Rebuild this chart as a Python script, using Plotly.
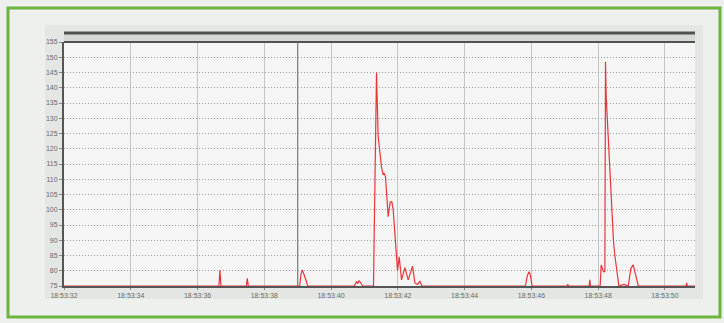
import pandas as pd
import plotly.graph_objects as go

# Sample times (seconds past 18:53:00) and the measured signal level
seconds = [
    32.00,
    36.64, 36.67, 36.70,
    37.46, 37.49, 37.52,
    39.06, 39.10, 39.14, 39.18, 39.22, 39.26, 39.30,
    40.70, 40.76, 40.80, 40.84, 40.90, 40.95,
    41.27, 41.36, 41.41, 41.51, 41.56, 41.59, 41.63, 41.71, 41.77, 41.82,
    41.86, 41.96, 41.99, 42.04, 42.11, 42.21, 42.31, 42.44, 42.51, 42.58,
    42.66, 42.72,
    45.82, 45.88, 45.93, 45.97, 46.02,
    47.07, 47.09, 47.11,
    47.73, 47.75, 47.77,
    48.06, 48.09, 48.16, 48.20, 48.22, 48.24, 48.46, 48.50, 48.62,
    48.77, 48.90, 48.98, 49.05, 49.10, 49.20,
    50.63, 50.65, 50.67,
    50.90,
]
values = [
    75,
    75, 80.2, 75,
    75, 77.5, 75,
    75, 79, 80.2, 79, 78, 76.5, 75,
    75, 76.5, 75.8, 76.8, 76, 75,
    75, 145, 124, 114, 111.4, 112, 110.8, 97.7, 102.6, 102.6,
    100, 85.8, 80, 84.6, 77, 81, 77, 81.5, 76, 75.5,
    76.5, 75,
    75, 78.5, 79.7, 78.5, 75,
    75, 75.6, 75,
    75, 77, 75,
    75, 81.9, 79.7, 79.7, 148.5, 137, 89.5, 85, 75,
    75.5, 75, 80.8, 81.9, 79.7, 75,
    75, 76, 75,
    75,
]

y_ticks = [75, 80, 85, 90, 95, 100, 105, 110, 115, 120, 125, 130, 135, 140, 145, 150, 155]
x_tick_seconds = [32, 34, 36, 38, 40, 42, 44, 46, 48, 50]
x_start, x_end = 32.0, 50.9
cursor_second = 39.0

base = pd.Timestamp("2020-01-01 18:53:00")
def to_time(s):
    return base + pd.to_timedelta(s, unit="s")

times = [to_time(s) for s in seconds]
tick_times = [to_time(s) for s in x_tick_seconds]
tick_text = [t.strftime("%H:%M:%S") for t in tick_times]

fig = go.Figure()
fig.add_trace(go.Scatter(
    x=times, y=values, mode="lines",
    line=dict(color="#e8353a", width=1.2),
    hoverinfo="skip", showlegend=False,
))

fig.update_layout(
    width=724, height=323,
    margin=dict(l=64, r=29, t=42, b=37),
    paper_bgcolor="#eef0ee",
    plot_bgcolor="#f4f5f4",
    font=dict(family="Liberation Sans, Arial, sans-serif", size=7, color="#6a6a6a"),
    xaxis=dict(
        range=[to_time(x_start), to_time(x_end)],
        tickvals=tick_times, ticktext=tick_text,
        showgrid=True, gridcolor="#c4c6c4", gridwidth=1,
        showline=True, linecolor="#555555", linewidth=2,
        ticks="outside", ticklen=2, tickcolor="#888888",
        zeroline=False,
    ),
    yaxis=dict(
        range=[75, 155],
        tickvals=y_ticks,
        showgrid=True, gridcolor="#9a9c9a", gridwidth=1, griddash="1px,2px",
        showline=True, linecolor="#555555", linewidth=2,
        ticks="outside", ticklen=3, tickcolor="#888888",
        zeroline=False,
    ),
    shapes=[
        # outer green frame
        dict(type="rect", xref="paper", yref="paper",
             x0=-56 / 631, x1=1 + 25 / 631, y0=-31 / 244, y1=1 + 34 / 244,
             line=dict(color="#6cb33f", width=3), layer="below"),
        # grey chart panel
        dict(type="rect", xref="paper", yref="paper",
             x0=-19 / 631, x1=1 + 8 / 631, y0=-13 / 244, y1=1 + 17 / 244,
             fillcolor="#e4e6e4", line=dict(width=0), layer="below"),
        dict(type="rect", xref="paper", yref="paper",
             x0=0, x1=1, y0=0, y1=1,
             fillcolor="#f4f5f4", line=dict(width=0), layer="below"),
        # header band above the plot
        dict(type="rect", xref="paper", yref="paper",
             x0=0, x1=1, y0=1, y1=1 + 9 / 244,
             fillcolor="#d6d8d6", line=dict(width=0)),
        dict(type="line", xref="paper", yref="paper",
             x0=0, x1=1, y0=1 + 9 / 244, y1=1 + 9 / 244,
             line=dict(color="#505250", width=3)),
        dict(type="line", xref="paper", yref="paper",
             x0=0, x1=1, y0=1, y1=1,
             line=dict(color="#505250", width=2)),
        # cursor marker
        dict(type="line", xref="x", yref="paper",
             x0=to_time(cursor_second), x1=to_time(cursor_second), y0=0, y1=1,
             line=dict(color="#7a7c7a", width=1.2), layer="below"),
    ],
)

fig.write_html("out.html")
